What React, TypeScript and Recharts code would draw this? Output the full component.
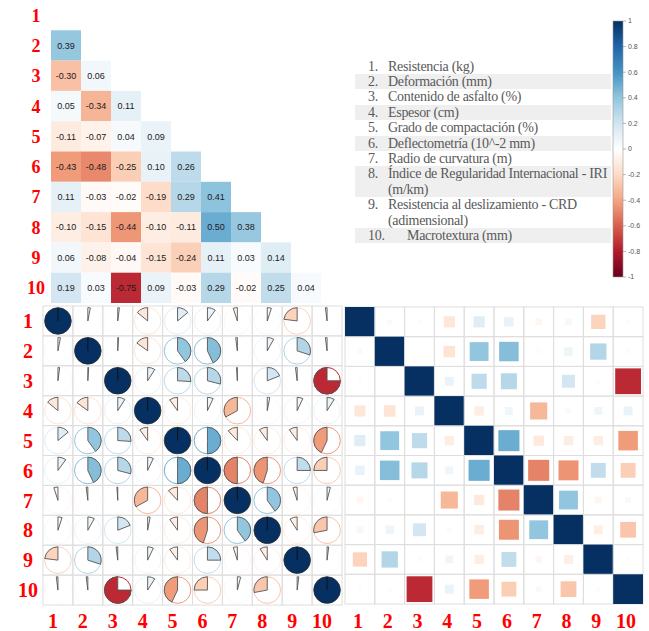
import React from "react";
import { ScatterChart, Scatter, XAxis, YAxis, ReferenceArea } from "recharts";

// variable index used on every axis
const indexTicks = [1, 2, 3, 4, 5, 6, 7, 8, 9, 10];

const variableNames = [
  "Resistencia (kg)",
  "Deformación (mm)",
  "Contenido de asfalto (%)",
  "Espesor (cm)",
  "Grado de compactación (%)",
  "Deflectometría (10^-2 mm)",
  "Radio de curvatura (m)",
  "Índice de Regularidad Internacional - IRI\n(m/km)",
  "Resistencia al deslizamiento - CRD\n(adimensional)",
  "Macrotextura (mm)",
];

// lower triangle of the annotated heatmap: row k+2, columns 1..k+1
const heatRows = [
  [0.39],
  [-0.3, 0.06],
  [0.05, -0.34, 0.11],
  [-0.11, -0.07, 0.04, 0.09],
  [-0.43, -0.48, -0.25, 0.1, 0.26],
  [0.11, -0.03, -0.02, -0.19, 0.29, 0.41],
  [-0.1, -0.15, -0.44, -0.1, -0.11, 0.5, 0.38],
  [0.06, -0.08, -0.04, -0.15, -0.24, 0.11, 0.03, 0.14],
  [0.19, 0.03, -0.75, 0.09, -0.03, 0.29, -0.02, 0.25, 0.04],
];

// upper triangle of the symmetric matrix used by the pie and square plots
// row k+1, columns k+2..10
const pairRows = [
  [0.03, 0.02, -0.14, 0.14, 0.1, -0.05, 0.05, -0.23, -0.02],
  [0.01, -0.15, 0.4, 0.43, -0.02, 0.08, 0.3, -0.02],
  [0.09, 0.26, 0.29, -0.01, 0.19, -0.02, -0.75],
  [-0.1, 0.07, -0.33, 0.03, 0.07, 0.09],
  [0.5, -0.12, -0.1, -0.1, -0.43],
  [-0.5, -0.45, 0.25, -0.25],
  [0.4, -0.05, 0.04],
  [-0.09, -0.28],
  [0.02],
];

const colorbarTicks = [-1, -0.8, -0.6, -0.4, -0.2, 0, 0.2, 0.4, 0.6, 0.8, 1];

// RdBu, from -1 to 1
const rdbu = ["#67001f", "#b2182b", "#d6604d", "#f4a582", "#fddbc7", "#ffffff", "#d1e5f0", "#92c5de", "#4393c3", "#2166ac", "#053061"];

const hex = (h: string) => [1, 3, 5].map((i) => parseInt(h.slice(i, i + 2), 16));

function corrColor(r: number) {
  const t = ((Math.max(-1, Math.min(1, r)) + 1) / 2) * (rdbu.length - 1);
  const i = Math.min(Math.floor(t), rdbu.length - 2);
  const f = t - i;
  const a = hex(rdbu[i]);
  const b = hex(rdbu[i + 1]);
  const c = a.map((v, k) => Math.round(v + (b[k] - v) * f));
  return `rgb(${c[0]},${c[1]},${c[2]})`;
}

const heatCells = heatRows.flatMap((vals, k) => vals.map((r, j) => ({ col: j + 1, row: k + 2, r })));

const fullMatrix = indexTicks.flatMap((row) =>
  indexTicks.map((col) => {
    let r = 1;
    if (row < col) r = pairRows[row - 1][col - row - 1];
    if (row > col) r = pairRows[col - 1][row - col - 1];
    return { col, row, r };
  })
);

const colorbarPoints = colorbarTicks.map((y) => ({ x: 0.5, y }));

const serif = "'Liberation Serif', 'Times New Roman', serif";
const RED = "#ff0000";

// chart geometry
const HEAT = { w: 352, h: 304, m: { top: 0, right: 1, bottom: 1, left: 0 }, axisW: 51 };
const PIE = { w: 345, h: 331, m: { top: 6, right: 3, bottom: 0, left: 0 }, axisW: 43, axisH: 26 };
const SQ = { w: 309, h: 331, m: { top: 7, right: 6, bottom: 0, left: 5 }, axisH: 27 };

const heatCellW = (HEAT.w - HEAT.m.left - HEAT.m.right - HEAT.axisW) / 10;
const heatCellH = (HEAT.h - HEAT.m.top - HEAT.m.bottom) / 10;
const pieCellW = (PIE.w - PIE.m.left - PIE.m.right - PIE.axisW) / 10;
const pieCellH = (PIE.h - PIE.m.top - PIE.m.bottom - PIE.axisH) / 10;
const sqCellW = (SQ.w - SQ.m.left - SQ.m.right) / 10;
const sqCellH = (SQ.h - SQ.m.top - SQ.m.bottom - SQ.axisH) / 10;

function LeftTick(props: any) {
  const { x, y, payload, fs } = props;
  return (
    <text x={x - 15} y={y} dy="0.36em" textAnchor="middle" fill={RED} fontFamily={serif} fontWeight="bold" fontSize={fs}>
      {payload.value}
    </text>
  );
}

function BottomTick(props: any) {
  const { x, y, payload, fs, shift, base } = props;
  return (
    <text x={x + shift} y={y + base} textAnchor="middle" fill={RED} fontFamily={serif} fontWeight="bold" fontSize={fs}>
      {payload.value}
    </text>
  );
}

function HeatCell(props: any) {
  const { cx, cy, payload } = props;
  return (
    <g>
      <rect x={cx - heatCellW / 2} y={cy - heatCellH / 2} width={heatCellW} height={heatCellH} fill={corrColor(payload.r)} />
      <text x={cx} y={cy} dy="0.35em" textAnchor="middle" fontSize={9} fontFamily="'Liberation Sans', Arial, sans-serif" fill="#1a1a1a">
        {payload.r.toFixed(2)}
      </text>
    </g>
  );
}

function PieCell(props: any) {
  const { cx, cy, payload } = props;
  const r: number = payload.r;
  const R = 0.445 * Math.min(pieCellW, pieCellH);
  const col = corrColor(r);
  const grid = <rect x={cx - pieCellW / 2} y={cy - pieCellH / 2} width={pieCellW} height={pieCellH} fill="none" stroke="#dedede" strokeWidth={1} />;
  if (Math.abs(r) >= 0.999) {
    return (
      <g>
        {grid}
        <circle cx={cx} cy={cy} r={R} fill={col} stroke="#2a2a2a" strokeWidth={0.8} />
        <line x1={cx} y1={cy} x2={cx} y2={cy - R} stroke="#111" strokeWidth={1} />
      </g>
    );
  }
  const theta = Math.abs(r) * 2 * Math.PI;
  const sgn = r >= 0 ? 1 : -1;
  const ex = cx + sgn * R * Math.sin(theta);
  const ey = cy - R * Math.cos(theta);
  const d = `M${cx},${cy} L${cx},${cy - R} A${R},${R} 0 ${theta > Math.PI ? 1 : 0} ${sgn > 0 ? 1 : 0} ${ex},${ey} Z`;
  return (
    <g>
      {grid}
      <circle cx={cx} cy={cy} r={R} fill="none" stroke={col} strokeWidth={1} />
      <path d={d} fill={col} stroke="#555" strokeWidth={0.9} strokeLinejoin="round" />
    </g>
  );
}

function SquareCell(props: any) {
  const { cx, cy, payload } = props;
  const s = Math.sqrt(Math.abs(payload.r));
  const w = sqCellW * s;
  const h = sqCellH * s;
  return (
    <g>
      <rect x={cx - sqCellW / 2} y={cy - sqCellH / 2} width={sqCellW} height={sqCellH} fill="none" stroke="#dedede" strokeWidth={1} />
      <rect x={cx - w / 2} y={cy - h / 2} width={w} height={h} fill={corrColor(payload.r)} />
    </g>
  );
}

function Legend() {
  const lineH = 15.4;
  let top = 58.6;
  return (
    <>
      {variableNames.map((name, i) => {
        const lines = name.split("\n").length;
        const itemTop = top;
        top += lines * lineH;
        return (
          <div
            key={name}
            style={{
              position: "absolute",
              left: 355,
              top: itemTop,
              width: 256,
              height: lines * lineH,
              background: i % 2 === 1 ? "#efefef" : "transparent",
              fontFamily: serif,
              fontSize: 14,
              lineHeight: `${lineH}px`,
              color: "#595959",
              letterSpacing: -0.3,
            }}
          >
            <span style={{ position: "absolute", left: 13 }}>{i + 1}.</span>
            <span style={{ position: "absolute", left: i === 9 ? 52 : 33, whiteSpace: "pre" }}>{name}</span>
          </div>
        );
      })}
    </>
  );
}

export default function App() {
  return (
    <div style={{ position: "absolute", left: 0, top: 0, width: 649, height: 631, background: "#fff", overflow: "hidden" }}>
      {/* correlation pies */}
      <div style={{ position: "absolute", left: 0, top: 300 }}>
        <ScatterChart width={PIE.w} height={PIE.h} margin={PIE.m}>
          <XAxis
            type="number"
            dataKey="col"
            domain={[0.5, 10.5]}
            ticks={indexTicks}
            interval={0}
            height={PIE.axisH}
            axisLine={false}
            tickLine={false}
            tickSize={0}
            tickMargin={0}
            tick={<BottomTick fs={20} shift={-5} base={23} />}
          />
          <YAxis
            type="number"
            dataKey="row"
            domain={[0.5, 10.5]}
            ticks={indexTicks}
            interval={0}
            reversed
            width={PIE.axisW}
            axisLine={false}
            tickLine={false}
            tickSize={0}
            tickMargin={0}
            tick={<LeftTick fs={20} />}
          />
          <Scatter data={fullMatrix} shape={(p: any) => <PieCell {...p} />} isAnimationActive={false} />
        </ScatterChart>
      </div>

      {/* correlation squares */}
      <div style={{ position: "absolute", left: 340, top: 300 }}>
        <ScatterChart width={SQ.w} height={SQ.h} margin={SQ.m}>
          <XAxis
            type="number"
            dataKey="col"
            domain={[0.5, 10.5]}
            ticks={indexTicks}
            interval={0}
            height={SQ.axisH}
            axisLine={false}
            tickLine={false}
            tickSize={0}
            tickMargin={0}
            tick={<BottomTick fs={20} shift={-2} base={24} />}
          />
          <YAxis type="number" dataKey="row" domain={[0.5, 10.5]} reversed hide />
          <Scatter data={fullMatrix} shape={(p: any) => <SquareCell {...p} />} isAnimationActive={false} />
        </ScatterChart>
      </div>

      {/* annotated lower-triangle heatmap */}
      <div style={{ position: "absolute", left: 0, top: 0 }}>
        <ScatterChart width={HEAT.w} height={HEAT.h} margin={HEAT.m}>
          <XAxis type="number" dataKey="col" domain={[0.5, 10.5]} hide />
          <YAxis
            type="number"
            dataKey="row"
            domain={[0.5, 10.5]}
            ticks={indexTicks}
            interval={0}
            reversed
            width={HEAT.axisW}
            axisLine={false}
            tickLine={false}
            tickSize={0}
            tickMargin={0}
            tick={<LeftTick fs={18} />}
          />
          <Scatter data={heatCells} shape={(p: any) => <HeatCell {...p} />} isAnimationActive={false} />
        </ScatterChart>
      </div>

      {/* colour bar */}
      <div style={{ position: "absolute", left: 590, top: 10 }}>
        <ScatterChart width={59} height={280} margin={{ top: 11, right: 0, bottom: 13, left: 23 }}>
          <defs>
            <linearGradient id="rdbuBar" x1="0" y1="0" x2="0" y2="1">
              {rdbu.map((c, k) => (
                <stop key={k} offset={`${(k / (rdbu.length - 1)) * 100}%`} stopColor={rdbu[rdbu.length - 1 - k]} />
              ))}
            </linearGradient>
          </defs>
          <XAxis type="number" dataKey="x" domain={[0, 1]} hide />
          <YAxis
            type="number"
            dataKey="y"
            orientation="right"
            domain={[-1, 1]}
            ticks={colorbarTicks}
            interval={0}
            width={26}
            axisLine={false}
            tickSize={3}
            tickMargin={2}
            tickLine={{ stroke: "#888", strokeWidth: 0.6 }}
            tick={{ fontSize: 7, fill: "#555", fontFamily: "'Liberation Sans', Arial, sans-serif" }}
            tickFormatter={(v: number) => String(v)}
          />
          <ReferenceArea x1={0} x2={1} y1={-1} y2={1} fill="url(#rdbuBar)" fillOpacity={1} stroke="#999" strokeWidth={0.6} ifOverflow="visible" />
          <Scatter data={colorbarPoints} shape={() => <g />} isAnimationActive={false} />
        </ScatterChart>
      </div>

      <Legend />
    </div>
  );
}
